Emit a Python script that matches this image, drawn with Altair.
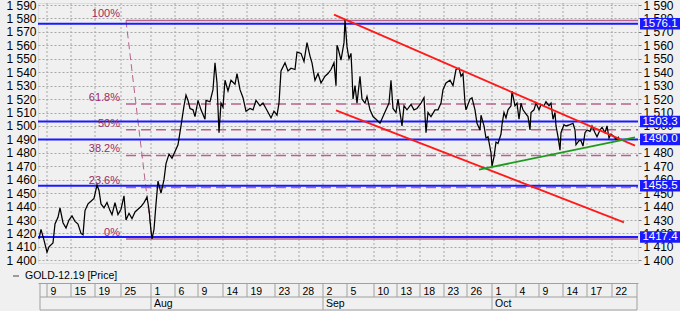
import altair as alt
import pandas as pd

# ---------------- data (x = bar index across the chart, 0..600) ----------------
price_idx = [1, 3, 6, 9, 11, 15, 17, 20, 22, 25, 28, 31, 34, 37, 40, 43, 45, 47, 50, 53,
             56, 59, 61, 63, 66, 69, 72, 74, 77, 80, 83, 86, 88, 91, 94, 97, 100, 103, 106, 109,
             111, 113, 114, 116, 118, 120, 123, 126, 128, 131, 134, 137, 140, 143, 146, 148, 150, 152, 155, 157,
             160, 163, 167, 168, 172, 175, 177, 179, 181, 183, 185, 187, 190, 193, 197, 199, 202, 205, 208, 212,
             215, 218, 222, 225, 228, 233, 236, 239, 241, 243, 247, 250, 253, 257, 259, 263, 266, 269, 272, 274,
             277, 280, 283, 287, 290, 293, 296, 298, 299, 300, 303, 306, 307, 309, 311, 313, 314, 315, 317, 319,
             322, 324, 327, 329, 332, 335, 338, 342, 345, 348, 351, 353, 355, 358, 360, 363, 364, 366, 369, 373,
             376, 379, 383, 386, 388, 390, 393, 397, 400, 403, 405, 408, 412, 415, 418, 421, 423, 425, 427, 428,
             432, 434, 437, 439, 442, 443, 446, 448, 450, 453, 454, 456, 458, 460, 463, 464, 466, 468, 470, 473,
             474, 477, 479, 481, 483, 485, 487, 490, 492, 493, 496, 498, 501, 503, 506, 508, 511, 513, 515, 517,
             518, 520, 522, 523, 526, 528, 532, 535, 537, 538, 541, 543, 545, 547, 549, 552, 554, 557, 559, 562,
             564, 567, 569, 571, 573, 576, 578, 581]
price_val = [1416, 1423, 1415, 1406, 1410, 1413, 1427, 1432, 1439, 1428, 1424, 1430, 1433, 1429, 1427, 1420, 1419, 1437, 1442, 1444,
             1446, 1456, 1452, 1442, 1439, 1443, 1437, 1434, 1443, 1434, 1438, 1448, 1430, 1435, 1431, 1436, 1438, 1440, 1443, 1447,
             1438, 1422, 1416, 1423, 1442, 1459, 1450, 1460, 1472, 1479, 1476, 1481, 1486, 1500, 1515, 1523, 1519, 1513, 1512, 1507,
             1519, 1512, 1505, 1519, 1518, 1527, 1547, 1532, 1495, 1517, 1514, 1534, 1526, 1534, 1531, 1539, 1527, 1521, 1511, 1513,
             1512, 1519, 1515, 1517, 1513, 1506, 1511, 1508, 1517, 1541, 1547, 1541, 1543, 1542, 1555, 1554, 1548, 1562, 1552, 1547,
             1534, 1539, 1532, 1537, 1539, 1542, 1547, 1530, 1560, 1558, 1549, 1562, 1579, 1559, 1550, 1554, 1539, 1520, 1530, 1517,
             1537, 1520, 1517, 1522, 1512, 1507, 1505, 1502, 1507, 1512, 1517, 1534, 1513, 1510, 1520, 1505, 1500, 1515, 1512, 1516,
             1512, 1513, 1517, 1521, 1495, 1510, 1507, 1512, 1512, 1517, 1527, 1532, 1534, 1530, 1542, 1543, 1537, 1539, 1517, 1512,
             1520, 1521, 1512, 1502, 1497, 1508, 1500, 1491, 1492, 1480, 1470, 1477, 1488, 1487, 1494, 1501, 1510, 1506, 1512, 1515,
             1526, 1515, 1517, 1505, 1517, 1512, 1510, 1507, 1497, 1510, 1512, 1517, 1512, 1516, 1515, 1518, 1515, 1517, 1505, 1510,
             1500, 1492, 1482, 1495, 1501, 1500, 1501, 1502, 1497, 1486, 1489, 1489, 1485, 1495, 1497, 1496, 1500, 1495, 1492, 1497,
             1499, 1495, 1500, 1491, 1494, 1492, 1490, 1492]

tick_idx = [9, 33, 57, 83, 113, 137, 160, 185, 209, 237, 261, 285, 309, 336, 359, 382, 406, 429, 454, 478, 501, 525, 549, 574]
tick_lab = ["9", "15", "19", "25", "1", "6", "9", "14", "19", "23", "28", "2", "5", "10", "13", "18", "23", "26",
            "1", "4", "9", "14", "17", "22"]
month_idx = [113, 285, 454]
month_lab = ["Aug", "Sep", "Oct"]
box_edges = [2, 599]

level_vals = [1576.1, 1503.3, 1490.0, 1455.5, 1417.4]
level_labs = ["1576.1", "1503.3", "1490.0", "1455.5", "1417.4"]

fib_low, fib_high = 1415.9, 1578.5
fib_high_idx, fib_low_idx = 88, 114
fib_pct = [0.0, 23.6, 38.2, 50.0, 61.8, 100.0]
fib_lab = ["0%", "23.6%", "38.2%", "50%", "61.8%", "100%"]

red_upper_idx, red_upper_val = [296, 597], [1582.8, 1485.3]
red_lower_idx, red_lower_val = [298, 586], [1511.6, 1428.3]
green_idx, green_val = [441, 597], [1467.5, 1491.5]

y_ticks = list(range(1400, 1600, 10))

# ---------------- styling ----------------
BLUE = "#1a1aff"
FIB_LINE = "#b8628e"
FIB_TEXT = "#9a2a62"
RED = "#ff1a1a"
GREEN = "#1f9a1f"
GRID = "#a8a8a8"
BOXLINE = "#a0a0a0"
FONT = "Liberation Sans"

x_scale = alt.Scale(domain=[0, 600], nice=False, zero=False)
y_scale = alt.Scale(domain=[1398, 1591.5], nice=False, zero=False)

lab_expr = "".join(f"datum.value == {i} ? '{l}' : " for i, l in zip(tick_idx, tick_lab)) + "''"
num_expr = "replace(format(datum.value, ','), ',', ' ')"

x_axis = alt.Axis(values=tick_idx, labelExpr=lab_expr, title=None, orient="bottom", offset=20,
                  domain=True, domainColor=BOXLINE, ticks=False, grid=False,
                  labelAlign="left", labelOffset=3, labelPadding=11, labelBaseline="alphabetic",
                  labelFontSize=10.5, labelColor="black", labelFont=FONT,
                  labelFlush=False, labelOverlap=False, labelBound=False, zindex=0)
left_axis = alt.Axis(values=y_ticks, labelExpr=num_expr, title=None, orient="left",
                     grid=True, gridDash=[2, 2], gridColor=GRID, ticks=False, domain=False,
                     labelPadding=2, labelFontSize=12, labelColor="black", labelFont=FONT,
                     labelOverlap=False, labelBound=False, labelFlush=False, zindex=0)
right_axis = alt.Axis(values=y_ticks, labelExpr=num_expr, title=None, orient="right",
                      grid=False, ticks=True, tickSize=3, tickColor="#808080", domain=False,
                      labelPadding=2, labelFontSize=12, labelColor="black", labelFont=FONT,
                      labelOverlap=False, labelBound=False, labelFlush=False, zindex=0)

# ---------------- frames ----------------
price_df = pd.DataFrame({"bar": price_idx, "price": price_val})
tick_df = pd.DataFrame({"bar": tick_idx})
month_df = pd.DataFrame({"bar": month_idx, "label": month_lab})
edge_df = pd.DataFrame({"bar": box_edges})
lv_df = pd.DataFrame({"level": level_vals, "label": level_labs})
fib_df = pd.DataFrame({"pct": fib_pct, "label": fib_lab})
fib_df["level"] = fib_low + fib_df["pct"] / 100.0 * (fib_high - fib_low)
fib_df["x0"] = fib_high_idx
fib_df["x1"] = 600
diag_df = pd.DataFrame({"bar": [fib_high_idx, fib_low_idx], "level": [fib_high, fib_low]})
trend_df = pd.DataFrame({
    "line": ["u", "u", "l", "l"],
    "bar": red_upper_idx + red_lower_idx,
    "val": red_upper_val + red_lower_val,
})
green_df = pd.DataFrame({"bar": green_idx, "val": green_val})
dummy = alt.Data(values=[{"a": 1}])

X = lambda f: alt.X(f, scale=x_scale, axis=None)
Y = lambda f: alt.Y(f, scale=y_scale, axis=None)

vgrid = alt.Chart(tick_df).mark_rule(color=GRID, strokeDash=[2, 2], strokeWidth=1).encode(
    x=X("bar:Q"), y=alt.value(0), y2=alt.value(260))

fib_solid = alt.Chart(fib_df).transform_filter("datum.pct == 0 || datum.pct == 100").mark_rule(
    color=FIB_LINE, strokeWidth=1.5).encode(x=X("x0:Q"), x2="x1:Q", y=Y("level:Q"))
fib_dash = alt.Chart(fib_df).transform_filter("datum.pct > 0 && datum.pct < 100").mark_rule(
    color=FIB_LINE, strokeWidth=1.5, strokeDash=[10, 5]).encode(x=X("x0:Q"), x2="x1:Q", y=Y("level:Q"))
fib_diag = alt.Chart(diag_df).mark_line(color=FIB_LINE, strokeWidth=1, strokeDash=[7, 4]).encode(
    x=X("bar:Q"), y=Y("level:Q"))
fib_text = alt.Chart(fib_df).mark_text(align="right", baseline="middle", dx=-6, dy=-6,
                                       fontSize=11, font=FONT, color=FIB_TEXT).encode(
    x=X("x0:Q"), y=Y("level:Q"), text="label:N")

blue = alt.Chart(lv_df).mark_rule(color=BLUE, strokeWidth=2).encode(
    y=alt.Y("level:Q", scale=y_scale, axis=right_axis), x=alt.value(0), x2=alt.value(600))

price = alt.Chart(price_df).mark_line(color="black", strokeWidth=1.25).encode(
    x=alt.X("bar:Q", scale=x_scale, axis=x_axis),
    y=alt.Y("price:Q", scale=y_scale, axis=left_axis))

red = alt.Chart(trend_df).mark_line(color=RED, strokeWidth=1.8).encode(
    x=X("bar:Q"), y=Y("val:Q"), detail="line:N")
green = alt.Chart(green_df).mark_line(color=GREEN, strokeWidth=1.8).encode(
    x=X("bar:Q"), y=Y("val:Q"))

boxes = alt.Chart(lv_df).transform_calculate(lo="datum.level - 4.3", hi="datum.level + 4.3").mark_rect(
    color=BLUE).encode(y=Y("lo:Q"), y2="hi:Q", x=alt.value(602), x2=alt.value(642))
box_text = alt.Chart(lv_df).mark_text(align="center", baseline="middle", color="white",
                                      fontSize=11.5, font=FONT).encode(
    x=alt.value(622), y=Y("level:Q"), text="label:N")

# bottom date box decorations
day_sep = alt.Chart(tick_df).mark_rule(color=BOXLINE).encode(
    x=X("bar:Q"), y=alt.value(280), y2=alt.value(294))
edge_sep = alt.Chart(edge_df).mark_rule(color=BOXLINE).encode(
    x=X("bar:Q"), y=alt.value(280), y2=alt.value(307))
month_sep = alt.Chart(month_df).mark_rule(color=BOXLINE).encode(
    x=X("bar:Q"), y=alt.value(294), y2=alt.value(307))
row_mid = alt.Chart(dummy).mark_rule(color=BOXLINE).encode(
    x=alt.value(2), x2=alt.value(599), y=alt.value(294))
row_bot = alt.Chart(dummy).mark_rule(color=BOXLINE).encode(
    x=alt.value(2), x2=alt.value(599), y=alt.value(307))
month_text = alt.Chart(month_df).mark_text(align="left", baseline="alphabetic", dx=3,
                                           fontSize=10.5, font=FONT, color="black").encode(
    x=X("bar:Q"), y=alt.value(304), text="label:N")

# legend
leg_dash = alt.Chart(dummy).mark_rule(color="#444444", strokeWidth=1).encode(
    x=alt.value(-25), x2=alt.value(-19), y=alt.value(273))
leg_text = alt.Chart(dummy).mark_text(align="left", baseline="middle", fontSize=10.5,
                                      font=FONT, color="black").encode(
    x=alt.value(-13), y=alt.value(273), text=alt.value("GOLD-12.19 [Price]"))

chart = alt.layer(
    vgrid, fib_solid, fib_dash, fib_diag, blue, price, red, green, fib_text,
    boxes, box_text, day_sep, edge_sep, month_sep, row_mid, row_bot, month_text,
    leg_dash, leg_text,
).resolve_axis(x="independent", y="independent").properties(
    width=600, height=260,
    autosize=alt.AutoSizeParams(type="none"),
    padding={"left": 38, "top": 3, "right": 42, "bottom": 48},
    background="#f0f0f0",
).configure_view(fill="#f4f4f4", stroke="#a0a0a0", strokeWidth=1).configure(font=FONT)

chart.save("out.html", embed_options={"renderer": "svg", "actions": False})
